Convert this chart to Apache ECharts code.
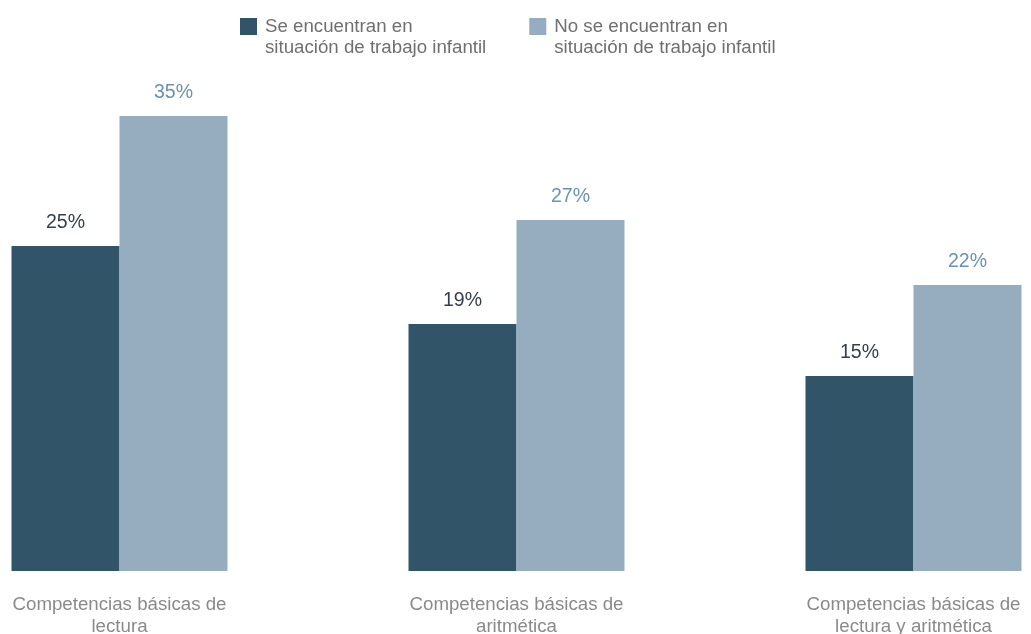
<!DOCTYPE html>
<html>
<head>
<meta charset="utf-8">
<script src="https://cdn.jsdelivr.net/npm/echarts@6/dist/echarts.min.js"></script>
<style>
  html, body { margin: 0; padding: 0; background: #fff; }
  #chart { width: 1031px; height: 634px; }
</style>
</head>
<body>
<div id="chart"></div>
<script>
var categories = [
  'Competencias básicas de\nlectura',
  'Competencias básicas de\naritmética',
  'Competencias básicas de\nlectura y aritmética'
];
var seriesNames = [
  'Se encuentran en\nsituación de trabajo infantil',
  'No se encuentran en\nsituación de trabajo infantil'
];
var childLabour = [25, 19, 15];
var noChildLabour = [35, 27, 22];

var chart = echarts.init(document.getElementById('chart'));

var font = "'Liberation Sans', Arial, Helvetica, sans-serif";

var option = {
  animation: false,
  textStyle: { fontFamily: font },
  legend: {
    left: 240,
    top: -5,
    padding: 0,
    itemWidth: 17,
    itemHeight: 17,
    itemGap: 43,
    icon: 'rect',
    selectedMode: false,
    data: seriesNames,
    // empty first line so that the first real line sits level with the icon
    formatter: function (name) { return '\n' + name; },
    textStyle: {
      fontFamily: font,
      fontSize: 18.7,
      color: '#6f6f6f',
      lineHeight: 21,
      padding: [0, 0, 0, 3]
    }
  },
  grid: {
    left: -79,
    right: -81,
    top: 51,
    bottom: 63,
    outerBoundsMode: 'none'
  },
  xAxis: {
    type: 'category',
    data: categories,
    axisLine: { show: false },
    axisTick: { show: false },
    axisLabel: {
      fontFamily: font,
      fontSize: 18.7,
      color: '#8a8a8a',
      lineHeight: 22,
      margin: 23,
      interval: 0
    }
  },
  yAxis: {
    type: 'value',
    min: 0,
    max: 40,
    show: false,
    splitLine: { show: false }
  },
  series: [
    {
      name: seriesNames[0],
      type: 'bar',
      data: childLabour,
      barWidth: 108,
      barGap: '0%',
      itemStyle: { color: '#325468' },
      label: {
        show: true,
        position: 'top',
        distance: 13,
        formatter: '{c}%',
        fontFamily: font,
        fontSize: 19.5,
        color: '#333f4c'
      }
    },
    {
      name: seriesNames[1],
      type: 'bar',
      data: noChildLabour,
      barWidth: 108,
      barGap: '0%',
      itemStyle: { color: '#96adbf' },
      label: {
        show: true,
        position: 'top',
        distance: 13,
        formatter: '{c}%',
        fontFamily: font,
        fontSize: 19.5,
        color: '#6b93ad'
      }
    }
  ]
};

chart.setOption(option);
</script>
</body>
</html>
